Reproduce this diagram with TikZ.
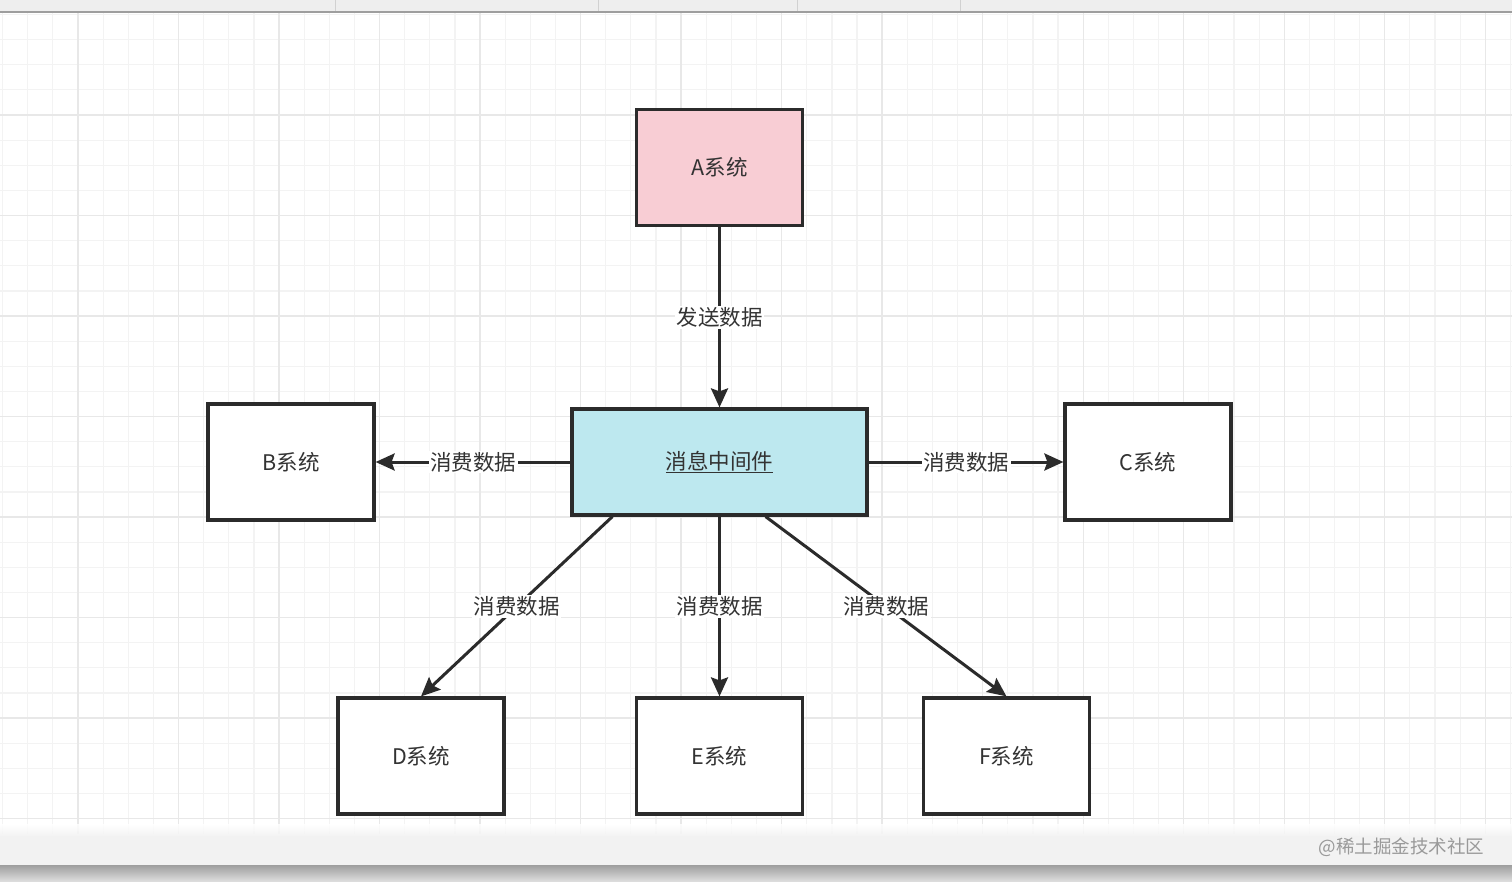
\documentclass[tikz,border=0pt]{standalone}
\usepackage{fontspec}
\setmainfont{Noto Sans CJK SC}
\usetikzlibrary{arrows.meta}
\definecolor{gridminor}{HTML}{F3F3F3}
\definecolor{gridmajor}{HTML}{E8E8E8}
\definecolor{pinkfill}{HTML}{F8CDD4}
\definecolor{cyanfill}{HTML}{BDE8EF}
\definecolor{edgecol}{HTML}{2B2B2B}
\definecolor{txtcol}{HTML}{333333}
\definecolor{barcol}{HTML}{EEEEEE}
\definecolor{footcol}{HTML}{F2F2F2}
\definecolor{markcol}{HTML}{9A9A9A}
\begin{document}
\begin{tikzpicture}[x=1pt,y=-1pt,
  sysbox/.style={draw=edgecol,line width=3.2pt,minimum width=166pt,minimum height=116pt,inner sep=0pt,font=\fontsize{21.5}{25}\selectfont,text=txtcol},
  conn/.style={draw=edgecol,line width=3pt,-{Stealth[length=19pt,width=17pt,inset=3pt]}},
  lbl/.style={fill=white,inner sep=1.5pt,font=\fontsize{21.5}{25}\selectfont,text=txtcol}
]
\useasboundingbox (0,0) rectangle (1512,882);
\fill[white] (0,0) rectangle (1512,882);
% grid
\foreach \i in {0,...,60} {
  \pgfmathsetmacro{\xx}{2.6+25.13*\i}
  \draw[gridminor,line width=1.2pt] (\xx,13) -- (\xx,834);
}
\foreach \i in {0,...,33} {
  \pgfmathsetmacro{\yy}{14.5+25.13*\i}
  \draw[gridminor,line width=1.2pt] (0,\yy) -- (1512,\yy);
}
\foreach \i in {0,...,15} {
  \pgfmathsetmacro{\xx}{78+100.52*\i}
  \draw[gridmajor,line width=1.4pt] (\xx,13) -- (\xx,834);
}
\foreach \i in {0,...,8} {
  \pgfmathsetmacro{\yy}{115+100.52*\i}
  \draw[gridmajor,line width=1.4pt] (0,\yy) -- (1512,\yy);
}
% top bar
\fill[barcol] (0,0) rectangle (1512,11);
\foreach \x in {335,598,797,960} \draw[black!18,line width=0.8pt] (\x,0) -- (\x,11);
\draw[black!38,line width=1.5pt] (0,12) -- (1512,12);
% footer
\shade[top color=white,bottom color=footcol,opacity=0.85] (0,824) rectangle (1512,836);
\fill[footcol] (0,836) rectangle (1512,865);
\shade[top color=black!38,bottom color=black!12] (0,865) rectangle (1512,882);
\node[text=markcol,font=\fontsize{18.5}{20}\selectfont,anchor=east] (wm) at (1488,847) {@稀土掘金技术社区};
% nodes
\node[sysbox,fill=pinkfill] (a) at (719.5,167.5) {A系统};
\node[sysbox,fill=cyanfill,minimum width=295pt,minimum height=106pt] (mw) at (719.5,462) {\underline{消息中间件}};
\node[sysbox,fill=white] (b) at (291,462) {B系统};
\node[sysbox,fill=white] (c) at (1148,462) {C系统};
\node[sysbox,fill=white] (d) at (421,756) {D系统};
\node[sysbox,fill=white] (e) at (719.5,756) {E系统};
\node[sysbox,fill=white] (f) at (1006.5,756) {F系统};
% connectors
\draw[conn] (a) -- node[lbl] {发送数据} (mw);
\draw[conn] (mw) -- node[lbl] {消费数据} (b);
\draw[conn] (mw) -- node[lbl] {消费数据} (c);
\draw[conn] ([xshift=42pt]mw.south west) -- node[lbl] {消费数据} (d.north);
\draw[conn] (mw) -- node[lbl] {消费数据} (e);
\draw[conn] ([xshift=-103pt]mw.south east) -- node[lbl] {消费数据} (f.north);
\end{tikzpicture}
\end{document}
